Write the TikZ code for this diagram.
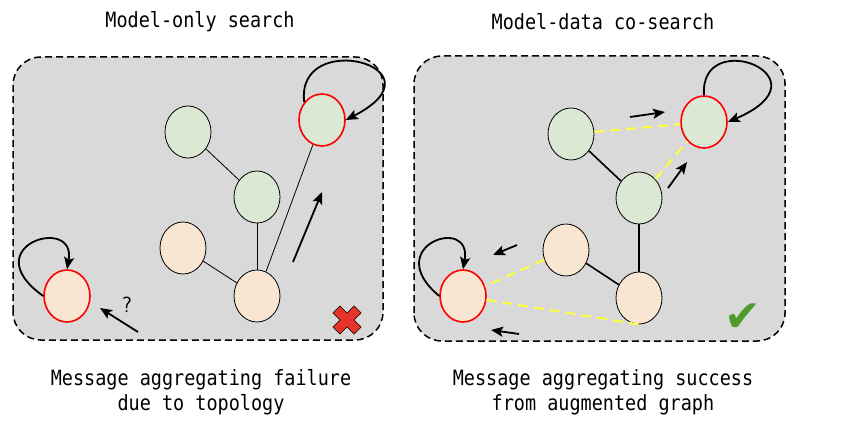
\documentclass[tikz,border=0pt]{standalone}
\usepackage{fontspec}
\setmonofont[FakeStretch=0.88]{DejaVu Sans Mono}
\newfontfamily\symfont{DejaVu Sans}
\usetikzlibrary{arrows.meta,shapes.geometric}
\definecolor{panelgray}{HTML}{D9D9D9}
\definecolor{nodegreen}{HTML}{DAE8D4}
\definecolor{nodeorange}{HTML}{F8E6D2}
\definecolor{linkyellow}{HTML}{FFFF3C}
\definecolor{crossred}{HTML}{E5332A}
\definecolor{tickgreen}{HTML}{4E9B2A}
\begin{document}
\begin{tikzpicture}[x=1pt,y=1pt,
    panel/.style={draw=black,line width=1.5pt,dash pattern=on 7pt off 4pt,
      fill=panelgray,rounded corners=28pt},
    vtx/.style={ellipse,draw=black,line width=0.8pt,minimum width=46pt,
      minimum height=52pt,inner sep=0pt},
    gvtx/.style={vtx,fill=nodegreen},
    ovtx/.style={vtx,fill=nodeorange},
    hit/.style={draw=red,line width=1.6pt},
    caption/.style={font=\ttfamily\fontsize{21}{25}\selectfont,align=center},
    flow/.style={line width=1.8pt,-{Stealth[length=12pt,width=10pt,inset=2.5pt]}},
    aug/.style={linkyellow,line width=2pt,dash pattern=on 10pt off 6pt}]
  \useasboundingbox (0,0) rectangle (864,432);
  % panels and captions
  \draw[panel] (13,92) rectangle (383,375);
  \draw[panel] (414,91) rectangle (785,376);
  \node[caption] (ltitle) at (200,410) {Model-only search};
  \node[caption] (rtitle) at (603,410) {Model-data co-search};
  \node[caption] (lcap) at (201,40) {Message aggregating failure\\due to topology};
  \node[caption] (rcap) at (603,40) {Message aggregating success\\from augmented graph};
  % model-only search
  \draw
    (188,300) node[gvtx] (lg1){}
    (257,235) node[gvtx] (lg2){}
    (322,312) node[gvtx,hit] (lg3){}
    (183,184) node[ovtx] (lo1){}
    (257,136) node[ovtx] (lo2){}
    (67,136) node[ovtx,hit] (lo3){};
  \begin{scope}[line width=0.8pt]
    \draw (lg1) to (lg2);
    \draw (lg2) to (lo2);
    \draw (lo1) to (lo2);
    \draw (lo2) to (lg3);
  \end{scope}
  \coordinate (la1) at (293,170);
  \coordinate (lb1) at (322,240);
  \coordinate (la2) at (138,100);
  \coordinate (lb2) at (100,124);
  \draw[flow] (la1) to (lb1);
  \draw[flow] (la2) to (lb2);
  \node[font=\sffamily\fontsize{22}{22}\selectfont] (ask) at (127,127) {?};
  \draw[flow] (lg3.135) .. controls +(-9,75) and +(103,53) .. (lg3.east);
  \draw[flow] (lo3.west) .. controls +(-70,50) and +(10,55) .. (lo3.north);
  \draw[fill=crossred,draw=black,line width=0.5pt,shift={(347,112)},rotate=45]
    (15,5) -- (5,5) -- (5,15) -- (-5,15) -- (-5,5) -- (-15,5) -- (-15,-5)
    -- (-5,-5) -- (-5,-15) -- (5,-15) -- (5,-5) -- (15,-5) -- cycle;
  % model-data co-search
  \draw
    (571,298) node[gvtx] (rg1){}
    (639,234) node[gvtx] (rg2){}
    (704,310) node[gvtx,hit] (rg3){}
    (566,182) node[ovtx] (ro1){}
    (639,134) node[ovtx] (ro2){}
    (463,136) node[ovtx,hit] (ro3){};
  \begin{scope}[line width=1.6pt]
    \draw (rg1) to (rg2);
    \draw (rg2) to (ro2);
    \draw (ro1) to (ro2);
  \end{scope}
  \begin{scope}[aug]
    \draw (rg1) to (rg3);
    \draw (rg2) to (rg3);
    \draw (ro1) to (ro3);
    \draw (ro3) to (ro2.south);
  \end{scope}
  \coordinate (ra1) at (630,315);
  \coordinate (rb1) at (665,320);
  \coordinate (ra2) at (668,244);
  \coordinate (rb2) at (687,270);
  \coordinate (ra3) at (517,187);
  \coordinate (rb3) at (493,177);
  \coordinate (ra4) at (519,98);
  \coordinate (rb4) at (491,102);
  \draw[flow] (ra1) to (rb1);
  \draw[flow] (ra2) to (rb2);
  \draw[flow] (ra3) to (rb3);
  \draw[flow] (ra4) to (rb4);
  \draw[flow] (rg3.north) .. controls +(-5,70) and +(105,45) .. (rg3.east);
  \draw[flow] (ro3.west) .. controls +(-60,50) and +(10,55) .. (ro3.north);
  \node[text=tickgreen,font=\symfont\fontsize{44}{44}\selectfont] (tick) at (743,114) {✔};
\end{tikzpicture}
\end{document}
